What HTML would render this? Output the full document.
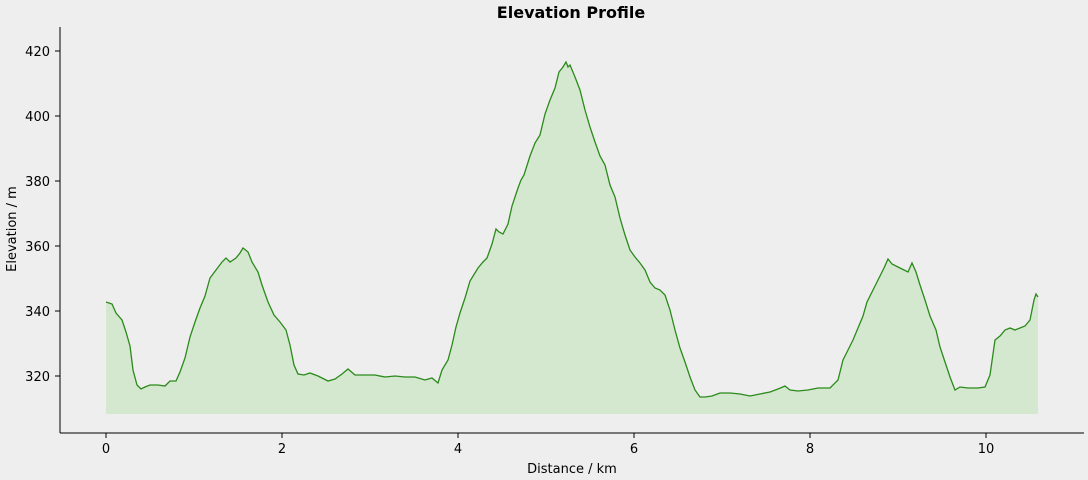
<!DOCTYPE html>
<html><head><style>
html,body{margin:0;padding:0;background:#eeeeee;}
svg{display:block;font-family:"DejaVu Sans","Liberation Sans",sans-serif;}
</style></head><body>
<svg width="1088" height="480" viewBox="0 0 1088 480">
<rect width="1088" height="480" fill="#eeeeee"/>
<text x="571" y="18" text-anchor="middle" font-size="16" font-weight="bold">Elevation Profile</text>
<polygon id="fill" fill="#d4e7cf" points=""/>
<polyline id="line" fill="none" stroke="#2a8a1a" stroke-width="1.3" points=""/>
<line x1="60" y1="27" x2="60" y2="433" stroke="#000" stroke-width="1"/>
<line x1="60" y1="433" x2="1084" y2="433" stroke="#000" stroke-width="1"/>
<g font-size="13" fill="#000">
<g text-anchor="end">
<text x="50" y="56">420</text><text x="50" y="121">400</text><text x="50" y="186">380</text>
<text x="50" y="251">360</text><text x="50" y="316">340</text><text x="50" y="381">320</text>
</g>
<g stroke="#000">
<line x1="55" y1="51" x2="60" y2="51"/><line x1="55" y1="116" x2="60" y2="116"/><line x1="55" y1="181" x2="60" y2="181"/>
<line x1="55" y1="246" x2="60" y2="246"/><line x1="55" y1="311" x2="60" y2="311"/><line x1="55" y1="376" x2="60" y2="376"/>
<line x1="106" y1="433" x2="106" y2="438"/><line x1="282" y1="433" x2="282" y2="438"/><line x1="458" y1="433" x2="458" y2="438"/>
<line x1="634" y1="433" x2="634" y2="438"/><line x1="810" y1="433" x2="810" y2="438"/><line x1="986" y1="433" x2="986" y2="438"/>
</g>
<g text-anchor="middle">
<text x="106" y="453">0</text><text x="282" y="453">2</text><text x="458" y="453">4</text>
<text x="634" y="453">6</text><text x="810" y="453">8</text><text x="986" y="453">10</text>
<text x="572" y="473">Distance / km</text>
</g>
<text x="16" y="229" text-anchor="middle" transform="rotate(-90 16 229)">Elevation / m</text>
</g>
</svg>
<script>
var p="106,302 112,304 116,313 122,320 126,332 130,346 133,370 137,385 141,389 145,387 150,385 158,385 165,386 170,381 176,381 180,372 185,358 190,337 195,322 200,308 205,296 210,278 216,270 222,262 226,258 230,262 236,258 240,253 243,248 248,252 252,262 258,272 262,285 268,302 274,315 280,322 286,330 290,345 294,365 298,374 304,375 310,373 318,376 328,381 335,379 342,374 348,369 355,375 365,375 375,375 385,377 395,376 405,377 415,377 425,380 432,378 438,383 442,370 448,360 452,345 456,327 460,313 465,298 470,281 478,268 483,262 487,258 492,244 496,229 499,232 503,234 508,224 512,206 518,188 521,180 524,175 530,156 535,143 540,135 545,114 550,100 555,88 559,72 563,67 566,62 568,67 570,65 575,77 580,90 585,110 590,127 595,142 600,156 605,165 610,185 615,197 620,218 625,235 630,250 635,257 640,263 645,270 650,282 655,288 660,290 665,295 670,310 675,330 680,348 685,362 690,377 695,390 700,397 705,397 712,396 720,393 730,393 740,394 750,396 760,394 770,392 778,389 785,386 790,390 798,391 808,390 818,388 830,388 838,380 843,360 848,350 853,340 858,328 863,316 867,302 873,290 878,280 884,268 888,259 892,264 900,268 908,272 912,263 916,272 920,285 925,300 930,316 936,330 940,347 945,362 950,377 955,390 960,387 968,388 978,388 985,387 990,375 995,340 1000,336 1005,330 1010,328 1015,330 1020,328 1025,326 1030,320 1034,300 1036,294 1038,297";
document.getElementById('line').setAttribute('points',p);
document.getElementById('fill').setAttribute('points',"106,414 "+p+" 1038,414");
</script>
</body></html>
